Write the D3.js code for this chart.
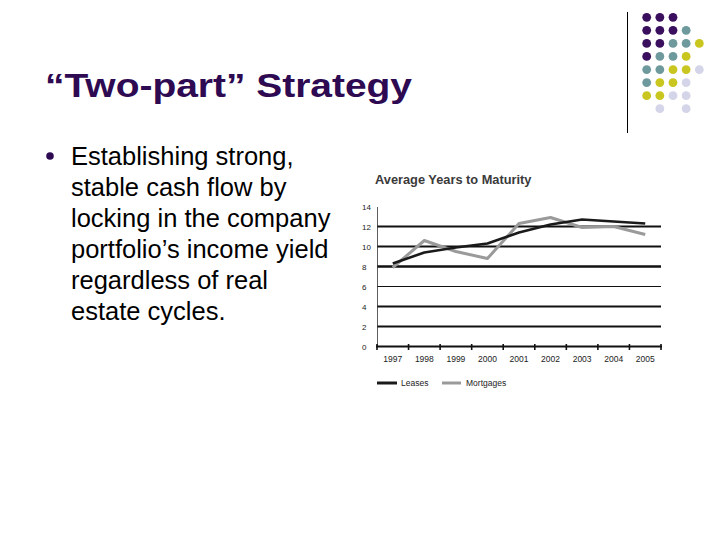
<!DOCTYPE html>
<html><head><meta charset="utf-8">
<script src="https://cdn.jsdelivr.net/npm/d3@7/dist/d3.min.js"></script>
<style>body{margin:0;background:#fff}svg{display:block}</style>
</head><body>
<svg id="c" width="720" height="540"></svg>
<script>
const years = ["1997","1998","1999","2000","2001","2002","2003","2004","2005"];
const leases = [8.3, 9.4, 9.9, 10.3, 11.4, 12.2, 12.7, 12.5, 12.3];
const mortgages = [7.9, 10.6, 9.5, 8.8, 12.3, 12.9, 11.9, 12.0, 11.2];
const yTicks = [0, 2, 4, 6, 8, 10, 12, 14];
const bulletLines = ["Establishing strong,", "stable cash flow by", "locking in the company", "portfolio’s income yield", "regardless of real", "estate cycles."];
const dotRows = ["PPP", "PPPT", "PPTTY", "PTTY", "TTYYL", "TYYL", "YYLL", "_L_L"];

(function(){
const svg = d3.select("#c");
const purple = "#2e0a52";

// decoration
const dotColor = {P:"#3a0f5e", T:"#6f9a9d", Y:"#c9c620", L:"#d5d5e9"};
svg.append("line").attr("x1",627.5).attr("x2",627.5).attr("y1",12).attr("y2",133).attr("stroke","#000").attr("stroke-width",1);
const dx = d3.scaleLinear().domain([0,4]).range([646.7,699.3]);
const dy = d3.scaleLinear().domain([0,7]).range([17.3,108.7]);
dotRows.forEach((row,r)=>{
  row.split("").forEach((c,i)=>{
    if(c==="_") return;
    svg.append("circle").attr("cx",dx(i)).attr("cy",dy(r)).attr("r",4.4).attr("fill",dotColor[c]);
  });
});

// title
svg.append("text").attr("x",45).attr("y",97).attr("fill",purple)
  .attr("font-family","Arial, 'Liberation Sans', sans-serif").attr("font-weight","bold").attr("font-size",34)
  .attr("textLength",367).attr("lengthAdjust","spacingAndGlyphs")
  .text("“Two-part” Strategy");

// bullet
svg.append("circle").attr("cx",50).attr("cy",156).attr("r",3.8).attr("fill",purple);
svg.append("g").selectAll("text").data(bulletLines).join("text")
  .attr("x",71).attr("y",(d,i)=>165+i*31)
  .attr("font-family","Arial, 'Liberation Sans', sans-serif").attr("font-size",25.5).attr("fill","#000")
  .text(d=>d);

// chart
const pl = 377, pr = 661, pt = 206.5, pb = 346.5;
const x = d3.scaleBand().domain(years).range([pl,pr]);
const y = d3.scaleLinear().domain([0,14]).range([pb,pt]);
const g = svg.append("g");

g.append("text").attr("x",375).attr("y",184).attr("font-family","Arial, 'Liberation Sans', sans-serif")
  .attr("font-weight","bold").attr("font-size",12.8).attr("fill","#3a3a3a").text("Average Years to Maturity");

// gridlines
g.selectAll("line.grid").data(yTicks.filter(v=>v>0 && v<14)).join("line").attr("class","grid")
  .attr("x1",pl).attr("x2",pr).attr("y1",d=>y(d)).attr("y2",d=>y(d))
  .attr("stroke","#111").attr("stroke-width",d=>d===8?2.6:(d===6?1.2:2));

// y axis
const yAxis = d3.axisLeft(y).tickValues(yTicks).tickSize(0).tickPadding(0);
const ya = g.append("g").attr("transform",`translate(${pl},0)`).call(yAxis);
ya.select(".domain").attr("stroke","#333").attr("stroke-width",0.8);
ya.selectAll("text").attr("x",-15).attr("text-anchor","start").attr("font-family","Arial, 'Liberation Sans', sans-serif").attr("font-size",8).attr("fill","#222");

// x axis
const xAxis = d3.axisBottom(x).tickSize(0).tickPadding(8);
const xa = g.append("g").attr("transform",`translate(0,${pb})`).call(xAxis);
xa.select(".domain").remove();
xa.selectAll("text").attr("font-family","'Liberation Sans Narrow', Arial, sans-serif").attr("font-size",8.5).attr("fill","#222").attr("dy","0.9em");
g.append("line").attr("x1",pl-1).attr("x2",pr+1).attr("y1",pb).attr("y2",pb).attr("stroke","#111").attr("stroke-width",2);
const bounds = years.map(d=>x(d)).concat([x(years[years.length-1])+x.bandwidth()]);
g.selectAll("line.xt").data(bounds).join("line").attr("class","xt")
  .attr("x1",d=>d).attr("x2",d=>d).attr("y1",pb-2.5).attr("y2",pb+3.5)
  .attr("stroke","#111").attr("stroke-width",1.6);

// lines
const line = d3.line().x((d,i)=>x(years[i])+x.bandwidth()/2).y(d=>y(d));
g.append("path").datum(mortgages).attr("d",line).attr("fill","none").attr("stroke","#9a9a9a").attr("stroke-width",3).attr("stroke-linejoin","round");
g.append("path").datum(leases).attr("d",line).attr("fill","none").attr("stroke","#1a1a1a").attr("stroke-width",2.6).attr("stroke-linejoin","round");

// legend
const ly = 383;
g.append("line").attr("x1",377).attr("x2",397).attr("y1",ly).attr("y2",ly).attr("stroke","#1a1a1a").attr("stroke-width",3);
g.append("text").attr("x",401).attr("y",ly+3).attr("font-family","'Liberation Sans Narrow', Arial, sans-serif").attr("font-size",8.5).attr("fill","#222").text("Leases");
g.append("line").attr("x1",442).attr("x2",461).attr("y1",ly).attr("y2",ly).attr("stroke","#9a9a9a").attr("stroke-width",3);
g.append("text").attr("x",466).attr("y",ly+3).attr("font-family","'Liberation Sans Narrow', Arial, sans-serif").attr("font-size",8.5).attr("fill","#222").text("Mortgages");
})();
</script>
</body></html>
